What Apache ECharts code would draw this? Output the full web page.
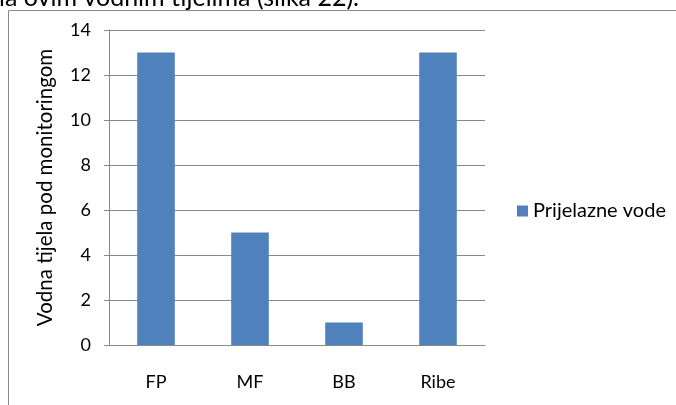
<!DOCTYPE html>
<html>
<head>
<meta charset="utf-8">
<script src="https://cdn.jsdelivr.net/npm/echarts@6/dist/echarts.min.js"></script>
<style>
  html, body { margin: 0; padding: 0; background: #ffffff; }
  #chart { width: 676px; height: 405px; }
</style>
</head>
<body>
<div id="chart"></div>
<script>
// Broj vodnih tijela pod monitoringom po biološkom elementu
const categories = ['FP', 'MF', 'BB', 'Ribe'];
const seriesName = 'Prijelazne vode';
const values = [13, 5, 1, 13];
const yTicks = [0, 2, 4, 6, 8, 10, 12, 14];
const axisTitle = 'Vodna tijela pod monitoringom';
const captionTail = 'la ovim vodnim tijelima (slika 22).';

const FONT = 'Lato, "Open Sans", sans-serif';
const GRID_GRAY = '#898989';

const chart = echarts.init(document.getElementById('chart'), null, { renderer: 'canvas' });

chart.setOption({
  animation: false,
  backgroundColor: '#ffffff',
  textStyle: { fontFamily: FONT, color: '#000000' },
  graphic: [
    {
      // document text running above the chart frame
      type: 'text',
      x: -1,
      y: -15,
      style: {
        text: captionTail,
        fontSize: 25,
        fontFamily: FONT,
        fill: '#000000',
        verticalAlign: 'top'
      },
      silent: true
    },
    {
      // chart frame
      type: 'rect',
      shape: { x: 8.5, y: 10.5, width: 720, height: 440 },
      style: { fill: null, stroke: GRID_GRAY, lineWidth: 1 },
      silent: true
    }
  ],
  legend: {
    data: [seriesName],
    left: 517,
    top: 201,
    padding: 0,
    icon: 'rect',
    itemWidth: 11,
    itemHeight: 11,
    itemGap: 10,
    textStyle: { fontFamily: FONT, fontSize: 20, color: '#000000' }
  },
  grid: { left: 109, top: 30, width: 376, height: 315, containLabel: false },
  xAxis: {
    type: 'category',
    data: categories,
    axisLine: { show: true, lineStyle: { color: GRID_GRAY, width: 1 } },
    axisTick: { show: false },
    axisLabel: { margin: 28, fontFamily: FONT, fontSize: 18, color: '#000000' },
    splitLine: { show: false }
  },
  yAxis: {
    type: 'value',
    min: yTicks[0],
    max: yTicks[yTicks.length - 1],
    interval: yTicks[1] - yTicks[0],
    name: axisTitle,
    nameLocation: 'middle',
    nameGap: 53,
    nameRotate: 90,
    nameTextStyle: { fontFamily: FONT, fontSize: 20.5, color: '#000000' },
    axisLine: { show: true, lineStyle: { color: GRID_GRAY, width: 1 } },
    axisTick: { show: true, inside: false, length: 5, lineStyle: { color: GRID_GRAY } },
    axisLabel: { margin: 18, fontFamily: FONT, fontSize: 18, color: '#000000' },
    splitLine: { show: true, lineStyle: { color: GRID_GRAY, width: 1 } }
  },
  series: [
    {
      name: seriesName,
      type: 'bar',
      data: values,
      barCategoryGap: '60%',
      itemStyle: { color: '#4f81bd' }
    }
  ]
});
</script>
</body>
</html>
